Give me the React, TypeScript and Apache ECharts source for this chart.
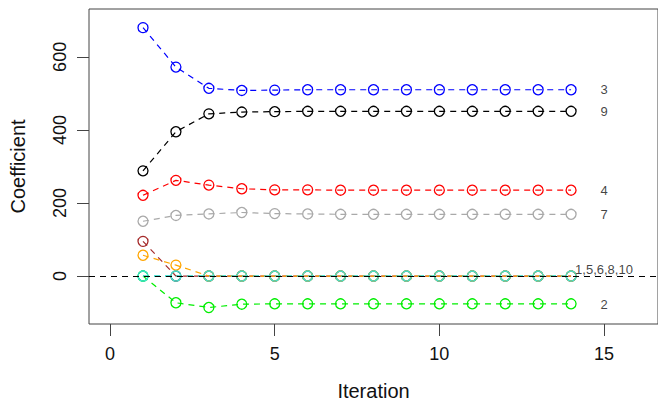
import React, { useEffect, useRef } from "react";
import * as echarts from "echarts";

const iterations = [1, 2, 3, 4, 5, 6, 7, 8, 9, 10, 11, 12, 13, 14];
const coef1 = [95, 0, 0, 0, 0, 0, 0, 0, 0, 0, 0, 0, 0, 0];
const coef2 = [0, -73, -86, -77, -76, -76, -76, -76, -76, -76, -76, -76, -76, -76];
const coef3 = [680, 572, 514, 508, 509, 510, 510, 510, 510, 510, 510, 510, 510, 510];
const coef4 = [221, 262, 249, 239, 236, 236, 235, 235, 235, 235, 235, 235, 235, 235];
const coef5 = [57, 30, 0, 0, 0, 0, 0, 0, 0, 0, 0, 0, 0, 0];
const coef6 = [0, 0, 0, 0, 0, 0, 0, 0, 0, 0, 0, 0, 0, 0];
const coef7 = [150, 166, 170, 174, 171, 170, 169, 169, 169, 169, 169, 169, 169, 169];
const coef8 = [0, 0, 0, 0, 0, 0, 0, 0, 0, 0, 0, 0, 0, 0];
const coef9 = [288, 395, 444, 449, 450, 451, 451, 451, 451, 451, 451, 451, 451, 451];
const coef10 = [0, 0, 0, 0, 0, 0, 0, 0, 0, 0, 0, 0, 0, 0];

const xTicks = [0, 5, 10, 15];
const yTicks = [0, 200, 400, 600];

const endLabelX = 15;
const endLabelTexts = ["3", "9", "4", "7", "1,5,6,8,10", "2"];
const endLabelValues = [510, 450, 235, 168, 19, -77];

const FONT = "Liberation Sans, Arial, Helvetica, sans-serif";

export default function App() {
  const ref = useRef<HTMLDivElement>(null);
  useEffect(() => {
    if (!ref.current) return;
    const chart = echarts.init(ref.current, null, { renderer: "svg" });
    const seriesDefs: { name: string; data: number[]; color: string }[] = [
      { name: "V6", data: coef6, color: "#40E0D0" },
      { name: "V8", data: coef8, color: "#40E0D0" },
      { name: "V2", data: coef2, color: "#00EE00" },
      { name: "V7", data: coef7, color: "#A9A9A9" },
      { name: "V4", data: coef4, color: "#FF0000" },
      { name: "V9", data: coef9, color: "#000000" },
      { name: "V3", data: coef3, color: "#0000FF" },
      { name: "V1", data: coef1, color: "#A52A2A" },
      { name: "V5", data: coef5, color: "#FFA500" },
      { name: "V10", data: coef10, color: "#40E0D0" },
    ];
    const lineSeries = seriesDefs.map((s) => ({
      name: s.name,
      type: "line",
      data: iterations.map((it, i) => [it, s.data[i]]),
      symbol: "circle",
      symbolSize: 10,
      showSymbol: true,
      lineStyle: { color: s.color, width: 1.2, type: [6, 5] },
      itemStyle: { color: "none", borderColor: s.color, borderWidth: 1.3 },
      emphasis: { disabled: true },
      z: 3,
    }));
    const option = {
      animation: false,
      backgroundColor: "#ffffff",
      grid: {
        left: 87,
        top: 9,
        width: 576,
        height: 322,
        show: true,
        borderColor: "#444",
        borderWidth: 1,
        backgroundColor: "transparent",
      },
      xAxis: {
        type: "value",
        min: -0.64,
        max: 16.64,
        name: "Iteration",
        nameLocation: "middle",
        nameGap: 57,
        nameTextStyle: { fontSize: 20, color: "#111", fontFamily: FONT },
        axisLine: { show: false, onZero: false },
        splitLine: { show: false },
        axisTick: {
          show: true,
          length: 12,
          customValues: xTicks,
          lineStyle: { color: "#444", width: 1 },
        },
        axisLabel: {
          customValues: xTicks,
          fontSize: 18,
          color: "#111",
          margin: 21,
          fontFamily: FONT,
        },
      },
      yAxis: {
        type: "value",
        min: -131.2,
        max: 731,
        name: "Coefficient",
        nameLocation: "middle",
        nameGap: 61,
        nameRotate: 90,
        nameTextStyle: { fontSize: 20, color: "#111", fontFamily: FONT },
        axisLine: { show: false, onZero: false },
        splitLine: { show: false },
        axisTick: {
          show: true,
          length: 12,
          customValues: yTicks,
          lineStyle: { color: "#444", width: 1 },
        },
        axisLabel: {
          customValues: yTicks,
          rotate: 90,
          fontSize: 18,
          color: "#111",
          margin: 20,
          fontFamily: FONT,
        },
      },
      series: [
        {
          type: "line",
          name: "zero",
          data: [],
          silent: true,
          markLine: {
            silent: true,
            symbol: "none",
            label: { show: false },
            lineStyle: { color: "#000", width: 1, type: [6, 5] },
            data: [{ yAxis: 0 }],
          },
          z: 2,
        },
        ...lineSeries,
        {
          type: "scatter",
          name: "labels",
          symbolSize: 0,
          silent: true,
          itemStyle: { color: "#111" },
          data: endLabelValues.map((v) => [endLabelX, v]),
          label: {
            show: true,
            position: "inside",
            formatter: (p: any) => endLabelTexts[p.dataIndex],
            fontSize: 13,
            color: "#111",
            textBorderWidth: 0,
            textBorderColor: "transparent",
            fontFamily: FONT,
          },
          z: 5,
        },
      ],
    };
    chart.setOption(option as any);
    return () => chart.dispose();
  }, []);
  return (
    <div
      ref={ref}
      style={{ position: "fixed", left: 0, top: 0, width: 658, height: 406, background: "#fff" }}
    />
  );
}
